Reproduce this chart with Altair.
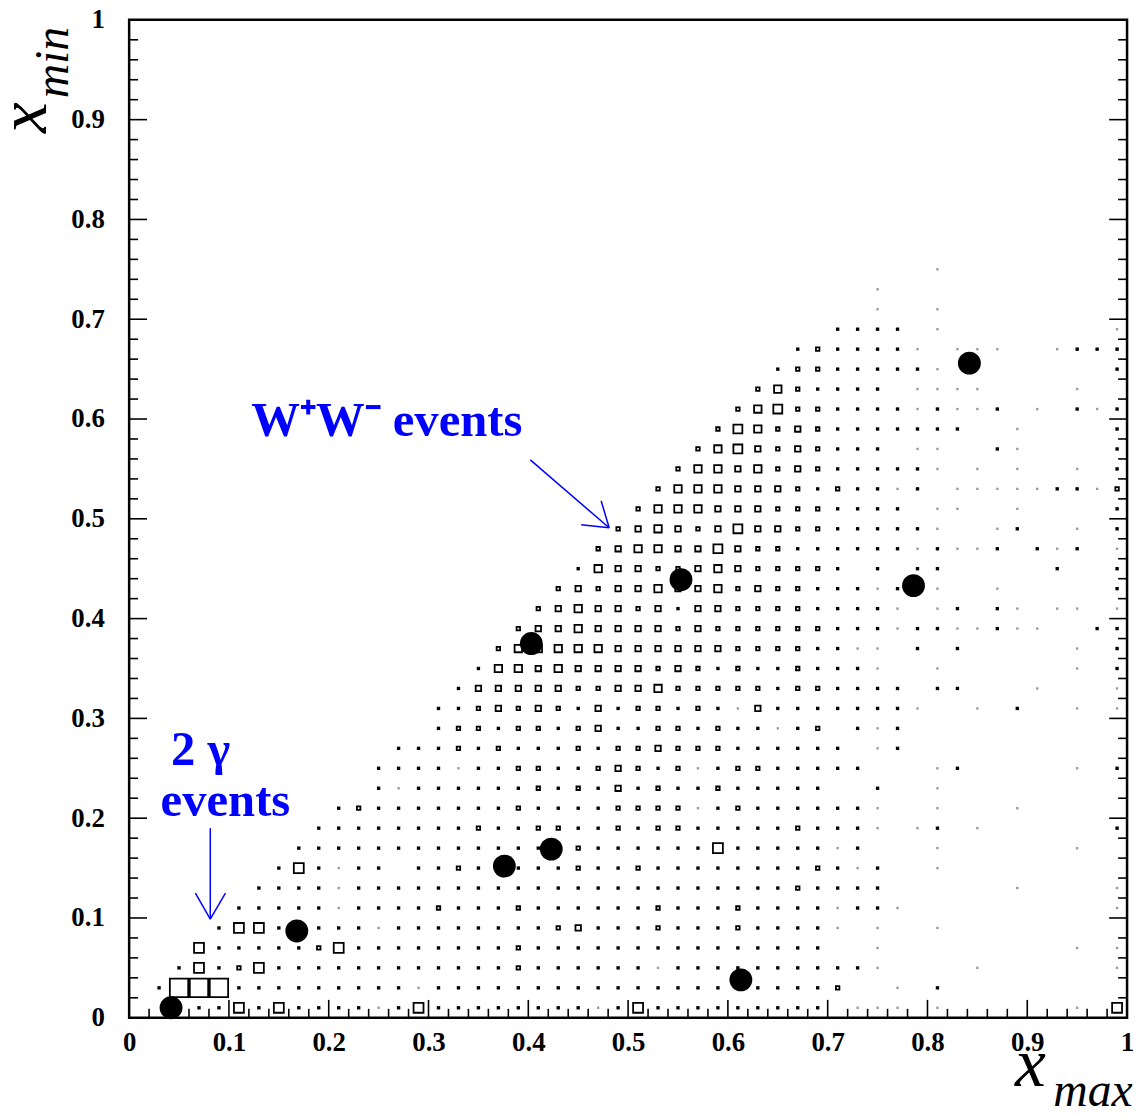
import altair as alt
import pandas as pd

# ---- 2D histogram (box plot) -----------------------------------------------
# one string per x_min bin (row 0 = 0.00-0.02, bin width 0.02);
# character k = x_max bin k.  Codes: 0 empty, 1 faint, 2 dot,
# 3..6 growing boxes, 7 isolated box, 8 full-bin box
HIST_ROWS = [
    "0002272722" "2212722222" "2221272222" "2222201110" "1000000107",
    "0288822222" "2222122222" "2222222222" "2222230010" "2000000000",
    "0027237222" "2222222223" "2222221222" "2222222100" "0010000001",
    "0007222223" "7222222223" "2222222222" "2222200100" "0000000101",
    "0000277222" "2212222222" "2342223222" "3222210100" "1000000000",
    "0000022222" "1222232223" "2222223222" "3222212210" "0000000001",
    "0000002222" "1222222222" "2222222222" "2223222200" "0000100001",
    "0000000272" "1220223222" "2232232222" "2222321200" "1000000000",
    "0000000022" "2222222222" "2232222227" "2222212000" "1000000100",
    "0000000002" "2222222322" "3322323322" "2223222101" "2010000002",
    "0000000000" "2322222223" "2222333312" "3222222100" "1000100000",
    "0000000000" "0021222222" "3232423223" "2222200200" "1000000000",
    "0000000000" "0022221223" "3223432312" "3322222000" "1200000102",
    "0000000000" "0002223232" "2232334333" "2222220120" "0000000000",
    "0000000000" "0000023323" "3234223323" "2212302120" "0000000000",
    "0000000000" "0000022343" "4324233232" "1422222221" "0010200101",
    "0000000000" "0000002444" "4433445333" "3323322220" "2200010001",
    "0000000000" "0000000255" "4544443432" "3223222100" "1000000102",
    "0000000000" "0000000035" "5555444444" "3333221102" "0200000102",
    "0000000000" "0000000003" "4454444343" "3333322212" "2112110022",
    "0000000000" "0000000000" "3454434244" "3333222210" "1202101101",
    "0000000000" "0000000000" "0343445445" "3433222120" "1001000002",
    "0000000000" "0000000000" "0025443345" "4333320202" "2000002002",
    "0000000000" "0000000000" "0003455446" "4332222221" "2112021201",
    "0000000000" "0000000000" "0000345434" "6443322222" "1001200102",
    "0000000000" "0000000000" "0000035554" "4433322220" "1100100002",
    "0000000000" "0000000000" "0000003555" "4443232212" "0111112213",
    "0000000000" "0000000000" "0000000355" "4534322222" "1010100102",
    "0000000000" "0000000000" "0000000035" "6434322201" "1002100002",
    "0000000000" "0000000000" "0000000003" "6534322222" "2200100002",
    "0000000000" "0000000000" "0000000000" "3563322221" "2112010212",
    "0000000000" "0000000000" "0000000000" "0353222201" "1110000100",
    "0000000000" "0000000000" "0000000000" "0023322222" "1000000002",
    "0000000000" "0000000000" "0000000000" "0002322221" "0111001222",
    "0000000000" "0000000000" "0000000000" "0000022220" "1000000001",
    "0000000000" "0000000000" "0000000000" "0000000100" "1000000000",
    "0000000000" "0000000000" "0000000000" "0000000100" "0000000000",
    "0000000000" "0000000000" "0000000000" "0000000000" "1000000000",
]
BIN_WIDTH = 0.02

BOX_CODES = [1, 2, 3, 4, 5, 6, 7, 8]
BOX_SIDE_PX = [0.6, 1.6, 3.5, 5.5, 7.5, 9.0, 10.0, 18.5]
BOX_COLOR = ["#9a9a9a", "black", "black", "black", "black", "black", "black", "black"]

# ---- observed events (black dots) ------------------------------------------
EVENT_XMAX = [0.042, 0.168, 0.376, 0.423, 0.403, 0.553, 0.613, 0.786, 0.842]
EVENT_XMIN = [0.010, 0.087, 0.152, 0.169, 0.375, 0.439, 0.038, 0.433, 0.656]

# ---- axes ------------------------------------------------------------------
AXIS_LABELS = [0, 0.1, 0.2, 0.3, 0.4, 0.5, 0.6, 0.7, 0.8, 0.9, 1]
TICK_MAJOR = [0.1, 0.2, 0.3, 0.4, 0.5, 0.6, 0.7, 0.8, 0.9]
TICK_MINOR = [round(0.02 * i, 2) for i in range(1, 50) if i % 5]

# ---- annotations -----------------------------------------------------------
BLUE_TEXT = ["W\u207aW\u207b events", "2 \u03b3", "events"]
BLUE_X = [0.1224, 0.0716, 0.0965]
BLUE_Y = [0.583, 0.253, 0.202]
BLUE_ALIGN = ["left", "center", "center"]

ARROW_X = [0.402, 0.481, 0.481, 0.0813, 0.0813, 0.0813]
ARROW_Y = [0.559, 0.491, 0.491, 0.190, 0.0988, 0.0988]
ARROW_X2 = [0.481, 0.473, 0.453, 0.0813, 0.0664, 0.0965]
ARROW_Y2 = [0.491, 0.518, 0.494, 0.0988, 0.125, 0.125]

TITLE_TEXT = ["x", "max", "x", "min"]
TITLE_X = [0.8876, 0.9260, -0.0830, -0.0610]
TITLE_Y = [-0.0687, -0.0886, 0.8866, 0.9214]
TITLE_SIZE = [70, 48, 70, 48]
TITLE_ANGLE = [0, 0, 270, 270]

W = 1005
H = 1005
TICK_LONG = 18
TICK_SHORT = 9

# ---- tables ----------------------------------------------------------------
cells = []
for j, row in enumerate(HIST_ROWS):
    for k, ch in enumerate(row):
        c = int(ch)
        if c > 0:
            cells.append({"xmax": BIN_WIDTH * k + BIN_WIDTH / 2,
                          "xmin": BIN_WIDTH * j + BIN_WIDTH / 2,
                          "code": c})
cells = pd.DataFrame(cells)
events = pd.DataFrame({"xmax": EVENT_XMAX, "xmin": EVENT_XMIN})
major = pd.DataFrame({"v": TICK_MAJOR})
minor = pd.DataFrame({"v": TICK_MINOR})
blue = pd.DataFrame({"t": BLUE_TEXT, "x": BLUE_X, "y": BLUE_Y, "a": BLUE_ALIGN})
arrows = pd.DataFrame({"x": ARROW_X, "y": ARROW_Y, "x2": ARROW_X2, "y2": ARROW_Y2})
titles = pd.DataFrame({"t": TITLE_TEXT, "x": TITLE_X, "y": TITLE_Y,
                       "s": TITLE_SIZE, "ang": TITLE_ANGLE})

SC = alt.Scale(domain=[0, 1], nice=False, zero=False)
FONT = "Liberation Serif"

label_axis = dict(values=AXIS_LABELS, format="~g", ticks=False,
                  domain=False, grid=False, title="", labelFont=FONT,
                  labelFontWeight="bold", labelFontSize=27, labelColor="black",
                  labelFlush=False, labelOverlap=False)
AX_X = alt.Axis(labelPadding=12, **label_axis)
AX_Y = alt.Axis(labelPadding=25, **label_axis)


def X(field):
    return alt.X(field, scale=SC, axis=AX_X)


def Y(field):
    return alt.Y(field, scale=SC, axis=AX_Y)


boxes = alt.Chart(cells).mark_square(filled=False, strokeWidth=1.8, opacity=1).encode(
    x=X("xmax:Q"),
    y=Y("xmin:Q"),
    size=alt.Size("code:Q", scale=alt.Scale(type="linear", zero=False, nice=False,
                                             domain=BOX_CODES,
                                             range=[s * s for s in BOX_SIDE_PX]),
                  legend=None),
    color=alt.Color("code:O", scale=alt.Scale(domain=BOX_CODES, range=BOX_COLOR),
                    legend=None),
)

dots = alt.Chart(events).mark_circle(size=530, color="black", opacity=1).encode(
    x=X("xmax:Q"),
    y=Y("xmin:Q"),
)


def tick_layers(df, length):
    base = alt.Chart(df).mark_rule(color="black", strokeWidth=1.6)
    bottom = base.encode(x=X("v:Q"), y=alt.value(H), y2=alt.value(H - length))
    left = base.encode(y=Y("v:Q"), x=alt.value(0), x2=alt.value(length))
    right = base.encode(y=Y("v:Q"), x=alt.value(W), x2=alt.value(W - length))
    return [bottom, left, right]


arrow_layer = alt.Chart(arrows).mark_rule(color="#0000ff", strokeWidth=1.5).encode(
    x=X("x:Q"), y=Y("y:Q"), x2="x2:Q", y2="y2:Q",
)

blue_left = alt.Chart(blue[blue.a == "left"]).mark_text(
    font=FONT, fontWeight="bold", fontSize=49, color="#0000ff",
    align="left", baseline="alphabetic").encode(x=X("x:Q"), y=Y("y:Q"), text="t:N")
blue_center = alt.Chart(blue[blue.a == "center"]).mark_text(
    font=FONT, fontWeight="bold", fontSize=49, color="#0000ff",
    align="center", baseline="alphabetic").encode(x=X("x:Q"), y=Y("y:Q"), text="t:N")

title_layer = alt.Chart(titles).mark_text(
    font=FONT, fontStyle="italic", color="black", align="left",
    baseline="alphabetic").encode(
    x=X("x:Q"), y=Y("y:Q"),
    text="t:N",
    size=alt.Size("s:Q", scale=None, legend=None),
    angle=alt.Angle("ang:Q", scale=None, legend=None),
)

layers = [boxes, dots] + tick_layers(major, TICK_LONG) + tick_layers(minor, TICK_SHORT) + [
    arrow_layer, blue_left, blue_center, title_layer]

chart = alt.layer(*layers).resolve_scale(
    size="independent", angle="independent", color="independent"
).properties(
    width=W, height=H,
    padding={"left": 122, "top": 8, "right": 8, "bottom": 97},
    autosize=alt.AutoSizeParams(type="none"),
    background="white",
).configure_view(stroke="black", strokeWidth=2.5)

chart.save("out.html", embed_options={"renderer": "svg", "actions": False})
